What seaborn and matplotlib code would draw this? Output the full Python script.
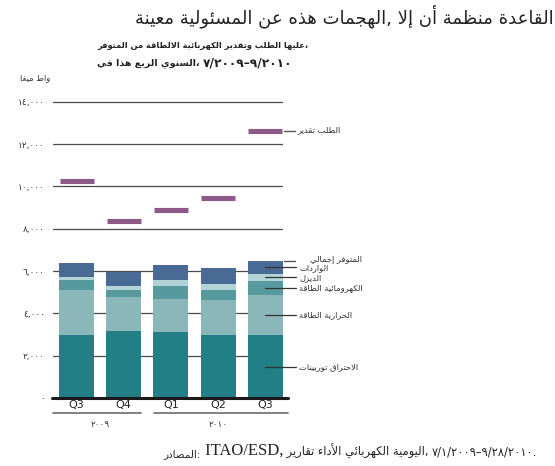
import matplotlib
matplotlib.use("Agg")
import matplotlib.pyplot as plt
import pandas as pd
import seaborn as sns

# data (MW)
quarters = ["Q3", "Q4", "Q1", "Q2", "Q3"]
years = ["2009", "2009", "2010", "2010", "2010"]
combustion = [3000, 3150, 3100, 2960, 2960]
thermal = [2110, 1600, 1600, 1690, 1920]
hydro = [470, 330, 610, 470, 660]
diesel = [140, 190, 280, 280, 330]
imports = [660, 690, 700, 750, 610]
demand = [10230, 8360, 8890, 9440, 12630]
yticks = [0, 2000, 4000, 6000, 8000, 10000, 12000, 14000]

title = "معينة المسئولية عن هذه الهجمات, إلا أن منظمة القاعدة"
subtitle1 = "المتوفر من الالطاقة الكهربائية وتقدير الطلب عليها،"
subtitle2 = "في هذا الربع السنوي، "
subtitle2_dates = "7/2009–9/2010"
unit_label = "ميغا واط"
source_head = "المصادر:"
source_org = " ITAO/ESD,"
source_tail = " تقارير الأداء الكهربائي اليومية, "
source_dates = "7/1/2009–9/28/2010."
lbl_total = "إجمالي المتوفر"
lbl_imports = "الواردات"
lbl_diesel = "الديزل"
lbl_hydro = "الطاقة الكهرومائية"
lbl_thermal = "الطاقة الحرارية"
lbl_combustion = "توربينات الاحتراق"
lbl_demand = "تقدير الطلب"

c_comb = "#217f85"
c_therm = "#8bb6ba"
c_hydro = "#579a9d"
c_diesel = "#b3d4d6"
c_imp = "#496a95"
c_dem = "#8e5a8a"

# --- minimal arabic shaping (matplotlib does none): presentation forms, letters
# of each word drawn right to left
DUAL = {0x626: 0xFE89, 0x628: 0xFE8F, 0x62A: 0xFE95, 0x62B: 0xFE99, 0x62C: 0xFE9D,
        0x62D: 0xFEA1, 0x62E: 0xFEA5, 0x633: 0xFEB1, 0x634: 0xFEB5, 0x635: 0xFEB9,
        0x636: 0xFEBD, 0x637: 0xFEC1, 0x638: 0xFEC5, 0x639: 0xFEC9, 0x63A: 0xFECD,
        0x641: 0xFED1, 0x642: 0xFED5, 0x643: 0xFED9, 0x644: 0xFEDD, 0x645: 0xFEE1,
        0x646: 0xFEE5, 0x647: 0xFEE9, 0x64A: 0xFEF1}
RIGHT = {0x622: 0xFE81, 0x623: 0xFE83, 0x624: 0xFE85, 0x625: 0xFE87, 0x627: 0xFE8D,
         0x629: 0xFE93, 0x62F: 0xFEA9, 0x630: 0xFEAB, 0x631: 0xFEAD, 0x632: 0xFEAF,
         0x648: 0xFEED, 0x649: 0xFEEF}
LAMALEF = {0x622: 0xFEF5, 0x623: 0xFEF7, 0x625: 0xFEF9, 0x627: 0xFEFB}


def shape_run(run):
    units = []
    i = 0
    while i < len(run):
        c = ord(run[i])
        if c == 0x644 and i + 1 < len(run) and ord(run[i + 1]) in LAMALEF:
            units.append(("R", LAMALEF[ord(run[i + 1])]))
            i += 2
            continue
        if c in DUAL:
            units.append(("D", DUAL[c]))
        elif c in RIGHT:
            units.append(("R", RIGHT[c]))
        elif c == 0x621:
            units.append(("N", 0xFE80))
        else:
            units.append(("N", c))
        i += 1
    out = []
    for j, (t, base) in enumerate(units):
        prev = j > 0 and units[j - 1][0] == "D"
        nxt = t == "D" and j + 1 < len(units) and units[j + 1][0] in "DR"
        if t == "N":
            out.append(chr(base))
        elif t == "R":
            out.append(chr(base + 1 if prev else base))
        else:
            out.append(chr(base + (3 if prev and nxt else 1 if prev else 2 if nxt else 0)))
    return "".join(out[::-1])


def ar(s):
    out, run = [], []
    for ch in s:
        if 0x621 <= ord(ch) <= 0x64A:
            run.append(ch)
        else:
            if run:
                out.append(shape_run(run))
                run = []
            out.append(ch)
    if run:
        out.append(shape_run(run))
    return "".join(out)


def ar_num(s):
    return s.translate(str.maketrans("0123456789", "".join(chr(0x660 + i) for i in range(10))))


keys = [q + " " + y for q, y in zip(quarters, years)]
df = pd.DataFrame({"key": keys, "comb": combustion, "therm": thermal, "hydro": hydro,
                   "diesel": diesel, "imp": imports, "demand": demand})
df["l1"] = df["comb"]
df["l2"] = df["l1"] + df["therm"]
df["l3"] = df["l2"] + df["hydro"]
df["l4"] = df["l3"] + df["diesel"]
df["l5"] = df["l4"] + df["imp"]

sns.set_style("white")
plt.rcParams["font.family"] = ["DejaVu Sans"]

fig = plt.figure(figsize=(5.55, 4.66), dpi=100)
ax = fig.add_axes([0.0955, 0.1459, 0.4144, 0.6586])

# stacked bars: cumulative layers drawn from the top one down
for col, colr in [("l5", c_imp), ("l4", c_diesel), ("l3", c_hydro), ("l2", c_therm), ("l1", c_comb)]:
    sns.barplot(data=df, x="key", y=col, order=keys, color=colr, saturation=1,
                width=0.74, linewidth=0, errorbar=None, ax=ax, zorder=3)

sns.pointplot(data=df, x="key", y="demand", order=keys, color=c_dem, markers="_",
              linestyle="none", errorbar=None, markersize=24, markeredgewidth=3.7,
              ax=ax, zorder=4)

ax.set_xlim(-0.5, 4.375)
ax.set_ylim(0, 14500)
ax.set_yticks(yticks)
ax.set_yticklabels([ar_num(f"{v:,}") for v in yticks], fontsize=6.5, color="#333333")
ax.set_xticks(range(len(keys)))
ax.set_xticklabels(quarters, fontsize=8, color="#222222")
ax.tick_params(axis="y", length=0, pad=6)
ax.tick_params(axis="x", length=0, pad=1.5)
ax.set_xlabel("")
ax.set_ylabel("")
for s in ax.spines.values():
    s.set_visible(False)
ax.grid(axis="y", color="#4a4a4a", linewidth=0.9, zorder=1)
ax.grid(axis="x", visible=False)

# baseline and year brackets
ax.plot([-0.52, 4.49], [0, 0], color="#1a1a1a", lw=2.2, clip_on=False, zorder=5)
ax.plot([-0.5, 1.37], [-700, -700], color="#777777", lw=1.3, clip_on=False)
ax.plot([1.645, 4.49], [-700, -700], color="#777777", lw=1.3, clip_on=False)
ax.text(0.5, -1230, ar_num(years[0]), ha="center", va="center", fontsize=6.5, color="#333333")
ax.text(3.0, -1230, ar_num(years[2]), ha="center", va="center", fontsize=6.5, color="#333333")

# labels to the right of the last bar
last = len(keys) - 1
mids = {
    lbl_imports: df["l4"][last] + df["imp"][last] / 2,
    lbl_diesel: df["l3"][last] + df["diesel"][last] / 2,
    lbl_hydro: df["l2"][last] + df["hydro"][last] / 2,
    lbl_thermal: df["l1"][last] + df["therm"][last] / 2,
    lbl_combustion: df["comb"][last] / 2,
}
for lbl, yv in mids.items():
    ax.plot([last, last + 0.66], [yv, yv], color="#333333", lw=0.9, clip_on=False, zorder=6)
    ax.text(last + 0.72, yv, ar(lbl), ha="left", va="center", fontsize=6, color="#333333")
for lbl, yv, xt in [(lbl_total, df["l5"][last], last + 0.94), (lbl_demand, demand[last], last + 0.69)]:
    ax.plot([last + 0.39, last + 0.64], [yv, yv], color="#555555", lw=1.0, clip_on=False)
    ax.text(xt, yv + 60, ar(lbl), ha="left", va="center", fontsize=6, color="#333333")

# titles
fig.text(0.997, 0.965, ar(title), ha="right", va="center", fontsize=13, color="#222222")
fig.text(0.555, 0.903, ar(subtitle1), ha="right", va="center", fontsize=6,
         fontweight="bold", color="#222222")
t2 = fig.text(0.175, 0.865, ar(subtitle2), ha="left", va="center", fontsize=6.8,
              fontweight="bold", color="#222222")
plt.annotate(ar_num(subtitle2_dates), xy=(1, 0.5), xycoords=t2, va="center", fontsize=8.8,
             fontweight="bold", color="#222222", annotation_clip=False)
fig.text(0.09, 0.833, ar(unit_label), ha="right", va="center", fontsize=6, color="#333333")

# source line
s1 = fig.text(0.294, 0.02, ar(source_head), ha="left", va="baseline", fontsize=7.5, color="#222222")
s2 = plt.annotate(source_org, xy=(1, 0), xycoords=s1, va="bottom", fontsize=12,
                  family="Liberation Serif", color="#222222", annotation_clip=False)
s3 = plt.annotate(ar(source_tail), xy=(1, 0), xycoords=s2, va="bottom", fontsize=8.3,
                  color="#222222", annotation_clip=False)
plt.annotate(ar_num(source_dates), xy=(1, 0), xycoords=s3, va="bottom", fontsize=8.3,
             color="#222222", annotation_clip=False)

fig.savefig("out.png", dpi=100)
